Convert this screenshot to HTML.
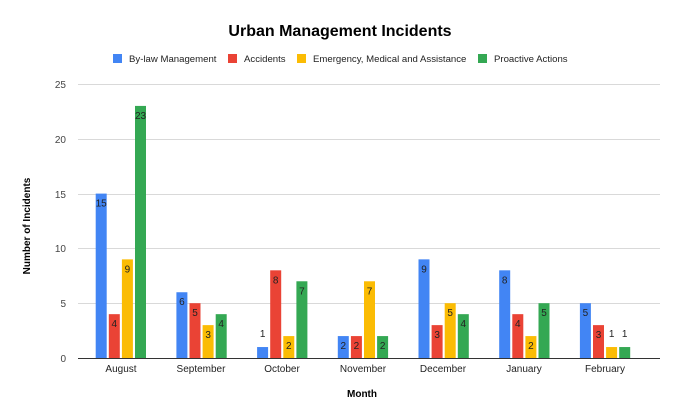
<!DOCTYPE html>
<html><head><meta charset="utf-8"><style>body{margin:0;background:#fff}svg{display:block}text{font-family:"Liberation Sans",Arial,sans-serif}</style></head><body>
<svg width="680" height="420" viewBox="0 0 680 420" xmlns="http://www.w3.org/2000/svg">
<rect width="680" height="420" fill="#fff"/>
<text x="340" y="36" text-anchor="middle" font-size="16" font-weight="bold" fill="#000">Urban Management Incidents</text>
<g font-size="9.6" fill="#222">
<rect x="113" y="54" width="9" height="9" fill="#4285f4"/><text x="129" y="62">By-law Management</text>
<rect x="228" y="54" width="9" height="9" fill="#ea4335"/><text x="244" y="62">Accidents</text>
<rect x="297" y="54" width="9" height="9" fill="#fbbc04"/><text x="313" y="62">Emergency, Medical and Assistance</text>
<rect x="478" y="54" width="9" height="9" fill="#34a853"/><text x="494" y="62">Proactive Actions</text>
</g>
<g stroke="#d9d9d9" stroke-width="1">
<line x1="78" x2="660" y1="84.5" y2="84.5"/><line x1="78" x2="660" y1="139.5" y2="139.5"/><line x1="78" x2="660" y1="194.5" y2="194.5"/><line x1="78" x2="660" y1="248.5" y2="248.5"/><line x1="78" x2="660" y1="303.5" y2="303.5"/>
</g>
<g font-size="10" fill="#444" text-anchor="end">
<text x="66" y="88">25</text><text x="66" y="143">20</text><text x="66" y="198">15</text><text x="66" y="252">10</text><text x="66" y="307">5</text><text x="66" y="362">0</text>
</g>
<text transform="translate(30,226) rotate(-90)" text-anchor="middle" font-size="10" font-weight="bold" fill="#000">Number of Incidents</text>
<text x="362" y="397" text-anchor="middle" font-size="10" font-weight="bold" fill="#000">Month</text>
<g>
<rect x="95.7" y="193.6" width="11" height="164.4" fill="#4285f4"/>
<rect x="108.8" y="314.16" width="11" height="43.84" fill="#ea4335"/>
<rect x="121.9" y="259.36" width="11" height="98.64" fill="#fbbc04"/>
<rect x="135" y="105.92" width="11" height="252.08" fill="#34a853"/>
<rect x="176.4" y="292.24" width="11" height="65.76" fill="#4285f4"/>
<rect x="189.5" y="303.2" width="11" height="54.8" fill="#ea4335"/>
<rect x="202.6" y="325.12" width="11" height="32.88" fill="#fbbc04"/>
<rect x="215.7" y="314.16" width="11" height="43.84" fill="#34a853"/>
<rect x="257.1" y="347.04" width="11" height="10.96" fill="#4285f4"/>
<rect x="270.2" y="270.32" width="11" height="87.68" fill="#ea4335"/>
<rect x="283.3" y="336.08" width="11" height="21.92" fill="#fbbc04"/>
<rect x="296.4" y="281.28" width="11" height="76.72" fill="#34a853"/>
<rect x="337.8" y="336.08" width="11" height="21.92" fill="#4285f4"/>
<rect x="350.9" y="336.08" width="11" height="21.92" fill="#ea4335"/>
<rect x="364" y="281.28" width="11" height="76.72" fill="#fbbc04"/>
<rect x="377.1" y="336.08" width="11" height="21.92" fill="#34a853"/>
<rect x="418.5" y="259.36" width="11" height="98.64" fill="#4285f4"/>
<rect x="431.6" y="325.12" width="11" height="32.88" fill="#ea4335"/>
<rect x="444.7" y="303.2" width="11" height="54.8" fill="#fbbc04"/>
<rect x="457.8" y="314.16" width="11" height="43.84" fill="#34a853"/>
<rect x="499.2" y="270.32" width="11" height="87.68" fill="#4285f4"/>
<rect x="512.3" y="314.16" width="11" height="43.84" fill="#ea4335"/>
<rect x="525.4" y="336.08" width="11" height="21.92" fill="#fbbc04"/>
<rect x="538.5" y="303.2" width="11" height="54.8" fill="#34a853"/>
<rect x="579.9" y="303.2" width="11" height="54.8" fill="#4285f4"/>
<rect x="593" y="325.12" width="11" height="32.88" fill="#ea4335"/>
<rect x="606.1" y="347.04" width="11" height="10.96" fill="#fbbc04"/>
<rect x="619.2" y="347.04" width="11" height="10.96" fill="#34a853"/>
</g>
<g font-size="10" fill="#222" text-anchor="middle">
<text x="101.2" y="206.6">15</text><text x="114.3" y="327.2">4</text><text x="127.4" y="272.4">9</text><text x="140.5" y="118.9">23</text>
<text x="181.9" y="305.2">6</text><text x="195" y="316.2">5</text><text x="208.1" y="338.1">3</text><text x="221.2" y="327.2">4</text>
<text x="262.6" y="337">1</text><text x="275.7" y="283.3">8</text><text x="288.8" y="349.1">2</text><text x="301.9" y="294.3">7</text>
<text x="343.3" y="349.1">2</text><text x="356.4" y="349.1">2</text><text x="369.5" y="294.3">7</text><text x="382.6" y="349.1">2</text>
<text x="424" y="272.4">9</text><text x="437.1" y="338.1">3</text><text x="450.2" y="316.2">5</text><text x="463.3" y="327.2">4</text>
<text x="504.7" y="283.3">8</text><text x="517.8" y="327.2">4</text><text x="530.9" y="349.1">2</text><text x="544" y="316.2">5</text>
<text x="585.4" y="316.2">5</text><text x="598.5" y="338.1">3</text><text x="611.6" y="337">1</text><text x="624.7" y="337">1</text>
</g>
<line x1="78" x2="660" y1="358.5" y2="358.5" stroke="#333" stroke-width="1"/>
<g font-size="10" fill="#222" text-anchor="middle">
<text x="121" y="372">August</text><text x="201" y="372">September</text><text x="282" y="372">October</text><text x="363" y="372">November</text><text x="443" y="372">December</text><text x="524" y="372">January</text><text x="605" y="372">February</text>
</g>
</svg>
</body></html>
